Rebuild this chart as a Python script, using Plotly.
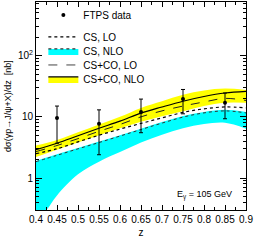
import plotly.graph_objects as go

# ---- data ----
z_data = [0.45, 0.55, 0.65, 0.75, 0.85]
ftps = [9.6, 7.7, 12.0, 19.5, 17.0]
ftps_err_plus = [5.4, 5.3, 7.5, 8.5, 7.5]
ftps_err_minus = [5.9, 5.3, 6.5, 8.3, 7.7]

z = [0.40, 0.45, 0.50, 0.55, 0.60, 0.65, 0.70, 0.75, 0.80, 0.85, 0.90]
csco_nlo = [2.9, 3.7, 4.9, 6.5, 8.5, 11.5, 14.5, 18.0, 21.5, 24.5, 26.0]
csco_nlo_hi = [3.4, 4.2, 5.6, 7.5, 10.0, 14.0, 18.0, 23.0, 27.0, 29.0, 27.5]
csco_nlo_lo = [2.2, 2.9, 3.8, 5.0, 6.5, 8.3, 10.2, 12.3, 15.0, 17.0, 17.0]
csco_lo = [2.7, 3.4, 4.4, 5.8, 7.5, 10.0, 12.5, 15.0, 17.5, 20.0, 18.5]
cs_lo = [2.5, 3.0, 3.9, 5.0, 6.3, 7.8, 9.6, 11.8, 13.5, 14.5, 14.0]
cs_nlo = [1.85, 2.35, 3.0, 3.8, 4.85, 6.2, 7.9, 9.9, 11.6, 12.5, 11.6]
cs_nlo_hi = [1.9, 2.45, 3.1, 3.95, 5.0, 6.4, 8.2, 10.3, 12.0, 13.0, 12.0]
z_cs_lo_band = [0.40, 0.425, 0.45, 0.50, 0.55, 0.60, 0.65, 0.70, 0.75, 0.80, 0.85, 0.90]
cs_nlo_lo = [0.2, 0.3, 0.52, 1.15, 1.85, 2.65, 3.8, 5.1, 6.5, 7.6, 8.0, 6.4]

x_ticks = [0.4, 0.45, 0.5, 0.55, 0.6, 0.65, 0.7, 0.75, 0.8, 0.85, 0.9]
x_ticktext = ["0.4", "0.45", "0.5", "0.55", "0.6", "0.65", "0.7", "0.75", "0.8", "0.85", "0.9"]
y_ticks = [1, 10, 100]
y_ticktext = ["1", "10", "10<sup>2</sup>"]

FONT = "Liberation Sans, Arial, sans-serif"
CYAN = "#00FFFF"
YELLOW = "#FFFF00"

fig = go.Figure()

# cyan band (CS, NLO)
fig.add_trace(go.Scatter(x=z_cs_lo_band, y=cs_nlo_lo, mode="lines", line=dict(width=0, shape="spline"),
                         showlegend=False, hoverinfo="skip"))
fig.add_trace(go.Scatter(x=z, y=cs_nlo_hi, mode="lines", line=dict(width=0, shape="spline"),
                         fill="tonexty", fillcolor=CYAN, showlegend=False, hoverinfo="skip"))
# yellow band (CS+CO, NLO)
fig.add_trace(go.Scatter(x=z, y=csco_nlo_lo, mode="lines", line=dict(width=0, shape="spline"),
                         showlegend=False, hoverinfo="skip"))
fig.add_trace(go.Scatter(x=z, y=csco_nlo_hi, mode="lines", line=dict(width=0, shape="spline"),
                         fill="tonexty", fillcolor=YELLOW, showlegend=False, hoverinfo="skip"))

# central lines
fig.add_trace(go.Scatter(x=z, y=cs_nlo, mode="lines", line=dict(color="#333333", width=1, dash="dot", shape="spline"),
                         showlegend=False))
fig.add_trace(go.Scatter(x=z, y=cs_lo, mode="lines", line=dict(color="black", width=1.2, dash="dot", shape="spline"),
                         showlegend=False))
fig.add_trace(go.Scatter(x=z, y=csco_lo, mode="lines", line=dict(color="#222222", width=1, dash="dash", shape="spline"),
                         showlegend=False))
fig.add_trace(go.Scatter(x=z, y=csco_nlo, mode="lines", line=dict(color="black", width=1.2, shape="spline"),
                         showlegend=False))

# data
fig.add_trace(go.Scatter(x=z_data, y=ftps, mode="markers", marker=dict(color="black", size=4),
                         error_y=dict(type="data", array=ftps_err_plus, arrayminus=ftps_err_minus,
                                      color="black", thickness=1, width=2),
                         name="FTPS data", legend="legend"))

# legend entries
fig.add_trace(go.Scatter(x=[None], y=[None], mode="lines", line=dict(color="black", width=1.2, dash="dot"),
                         name="CS, LO", legend="legend2"))
fig.add_trace(go.Scatter(x=[None], y=[None], mode="lines", line=dict(color="#333333", width=1.2, dash="dot"),
                         fill="toself", fillcolor=CYAN, name="CS, NLO", legend="legend3"))
fig.add_trace(go.Scatter(x=[None], y=[None], mode="lines", line=dict(color="#444444", width=1, dash="dash"),
                         name="CS+CO, LO", legend="legend4"))
fig.add_trace(go.Scatter(x=[None], y=[None], mode="lines", line=dict(color="black", width=1.2),
                         fill="toself", fillcolor=YELLOW, name="CS+CO, NLO", legend="legend5"))

fig.add_annotation(x=0.80, y=0.07, xref="paper", yref="paper", xanchor="center", yanchor="middle",
                   text="E<sub>γ</sub> = 105 GeV", showarrow=False, font=dict(size=9, family=FONT, color="black"))

axis_common = dict(showline=True, linecolor="black", linewidth=1, mirror="ticks", ticks="inside",
                   tickcolor="black", showgrid=False, zeroline=False,
                   tickfont=dict(size=10, family=FONT, color="black"))

fig.update_xaxes(range=[0.4, 0.9], tickvals=x_ticks, ticktext=x_ticktext, ticklen=5,
                 minor=dict(dtick=0.025, ticks="inside", ticklen=3, tickcolor="black"),
                 title=dict(text="z", font=dict(size=10, family=FONT, color="black"), standoff=4),
                 **axis_common)
fig.update_yaxes(type="log", range=[-0.523, 2.877], tickvals=y_ticks, ticktext=y_ticktext, ticklen=6,
                 minor=dict(dtick="D1", ticks="inside", ticklen=3, tickcolor="black"),
                 title=dict(text="dσ(γp→J/ψ+X)/dz  [nb]", font=dict(size=9, family=FONT, color="black"), standoff=4),
                 **axis_common)

leg_common = dict(x=0.035, xanchor="left", yanchor="middle", bgcolor="rgba(0,0,0,0)",
                  font=dict(size=10, family=FONT, color="black"), itemwidth=30)
fig.update_layout(
    width=258, height=241,
    margin=dict(l=36, r=12, t=1, b=31),
    paper_bgcolor="white", plot_bgcolor="white",
    showlegend=True,
    legend=dict(y=0.933, **leg_common),
    legend2=dict(y=0.828, **leg_common),
    legend3=dict(y=0.761, **leg_common),
    legend4=dict(y=0.694, **leg_common),
    legend5=dict(y=0.627, **leg_common),
    font=dict(family=FONT, color="black"),
)

fig.write_html("out.html", config={"displayModeBar": False},
               post_script="document.body.style.margin='0';document.body.style.overflow='hidden';")
